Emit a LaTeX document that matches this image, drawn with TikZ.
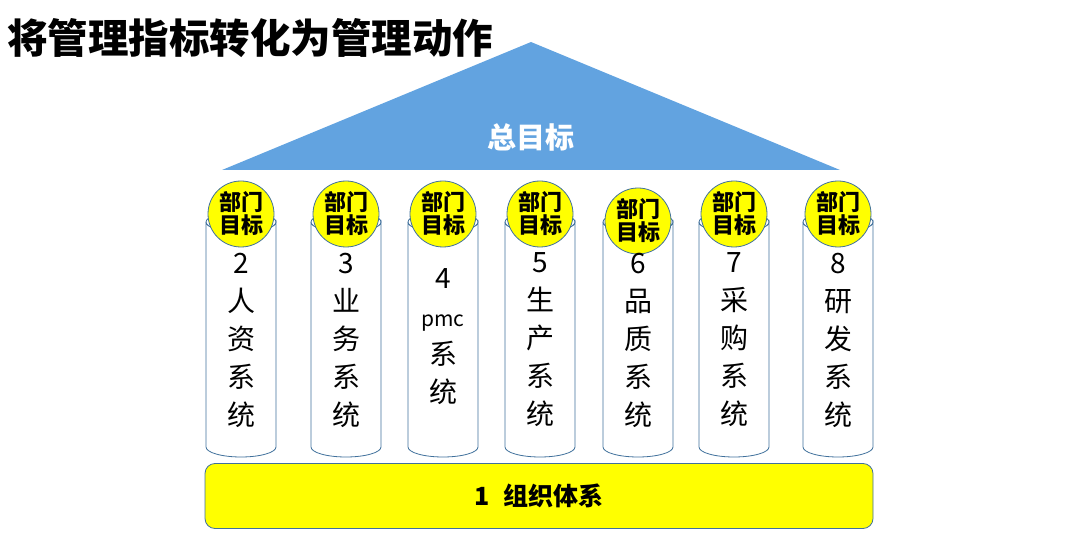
\documentclass[tikz,border=0pt]{standalone}
\usepackage{fontspec}
\setmainfont{Noto Sans CJK SC}
\definecolor{roofblue}{HTML}{62A3E0}
\definecolor{edge}{HTML}{41719C}
\definecolor{yel}{HTML}{FFFF00}
\tikzset{
  cyl/.style={draw=edge, line width=0.8pt, fill=white},
  badge/.style={circle, draw=edge, line width=0.8pt, fill=yel, minimum size=66pt, inner sep=0pt,
    align=center, font=\bfseries\fontsize{22}{26}\selectfont},
  coltext/.style={align=center, inner sep=0pt, font=\fontsize{28}{38}\selectfont},
}
\begin{document}
\begin{tikzpicture}[x=1pt,y=-1pt]
\useasboundingbox (0,0) rectangle (1081,545);
% title
\node[anchor=west, inner sep=0pt, font=\bfseries\fontsize{40.5}{44}\selectfont] (title) at (7,38) {将管理指标转化为管理动作};
% roof
\coordinate (apex) at (531,42);
\coordinate (bl) at (222,170);
\coordinate (br) at (840,170);
\fill[roofblue] (apex) -- (br) -- (bl) -- cycle;
\node[text=white, font=\bfseries\fontsize{29}{32}\selectfont] (goal) at (531,137) {总目标};
% columns
\foreach \i/\x/\cy/\txt/\ty in {
  1/241/214/{2\\人\\资\\系\\统}/340,
  2/346/214/{3\\业\\务\\系\\统}/340,
  3/443/214/{4\\{\fontsize{21}{36}\selectfont pmc}\\系\\统}/337,
  4/540/214/{5\\生\\产\\系\\统}/340,
  5/638/221/{6\\品\\质\\系\\统}/340,
  6/734/214/{7\\采\\购\\系\\统}/340,
  7/838/214/{8\\研\\发\\系\\统}/340}{
  \draw[cyl] (\x-35,222) -- (\x-35,447) arc[start angle=180, end angle=360, x radius=35, y radius=-10] -- (\x+35,222) arc[start angle=0, end angle=-180, x radius=35, y radius=-10];
  \draw[cyl] (\x,222) ellipse[x radius=35, y radius=10];
  \node[badge] (b\i) at (\x,\cy) {部门\\[-3pt]目标};
  \node[coltext] (c\i) at (\x,\ty) {\txt};
}
% base
\node[draw=edge, line width=0.8pt, fill=yel, rounded corners=10pt, minimum width=668pt, minimum height=65pt,
  font=\bfseries\fontsize{25}{28}\selectfont] (base) at (539,496) {1\hspace{14pt}组织体系};
\end{tikzpicture}
\end{document}
